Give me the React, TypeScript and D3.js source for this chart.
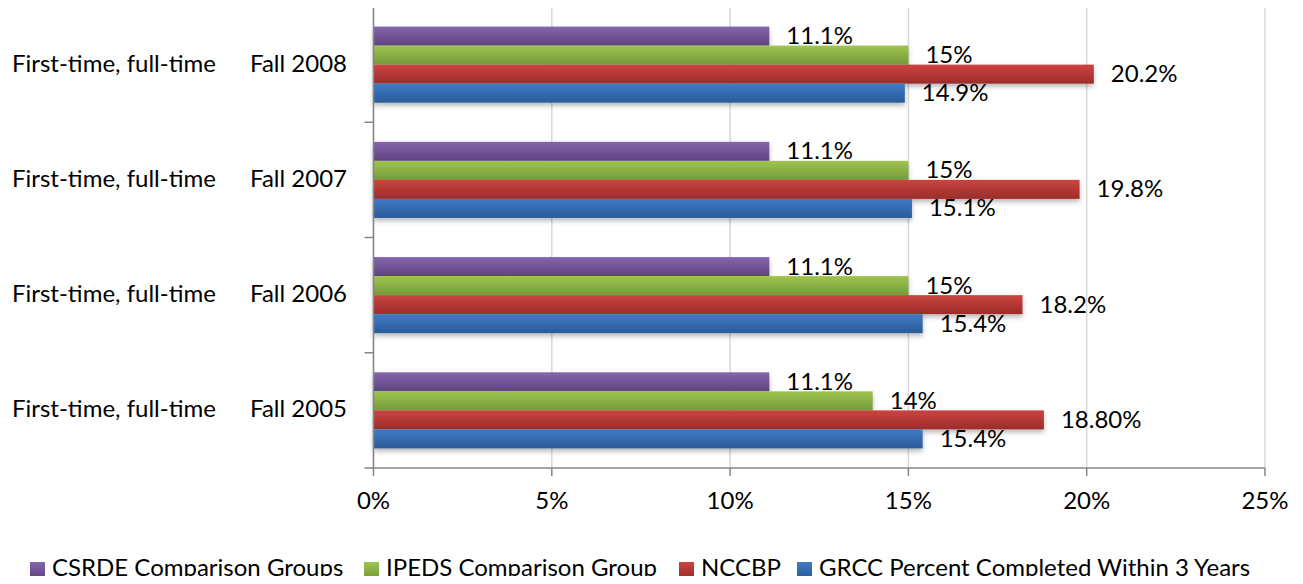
import React from 'react';
import * as d3 from 'd3';

// categories, top to bottom
const categories = [
  'First-time, full-time     Fall 2008',
  'First-time, full-time     Fall 2007',
  'First-time, full-time     Fall 2006',
  'First-time, full-time     Fall 2005',
];

// series, drawn top to bottom inside each category
const seriesNames = [
  'CSRDE Comparison Groups',
  'IPEDS Comparison Group',
  'NCCBP',
  'GRCC Percent Completed Within 3 Years',
];
const csrde = [11.1, 11.1, 11.1, 11.1];
const ipeds = [15, 15, 15, 14];
const nccbp = [20.2, 19.8, 18.2, 18.8];
const grcc = [14.9, 15.1, 15.4, 15.4];

const csrdeLabels = ['11.1%', '11.1%', '11.1%', '11.1%'];
const ipedsLabels = ['15%', '15%', '15%', '14%'];
const nccbpLabels = ['20.2%', '19.8%', '18.2%', '18.80%'];
const grccLabels = ['14.9%', '15.1%', '15.4%', '15.4%'];

const xTicks = [0, 5, 10, 15, 20, 25];

const colors = [
  ['#8566ad', '#5e4280'],
  ['#a0c450', '#769a3a'],
  ['#cc4441', '#9c2c2a'],
  ['#3e7bc6', '#2b5b98'],
];

const seriesValues = [csrde, ipeds, nccbp, grcc];
const seriesLabels = [csrdeLabels, ipedsLabels, nccbpLabels, grccLabels];

const FONT = 'Lato, "Open Sans", sans-serif';
const FS = 24;

export default function App() {
  const width = 1303;
  const height = 584;
  const left = 373.5;
  const right = 1265;
  const top = 7;
  const bottom = 468;

  const x = d3.scaleLinear().domain([0, 25]).range([left, right]);
  const y = d3.scaleBand<number>().domain(d3.range(categories.length)).range([top, bottom]);
  const inner = d3
    .scaleBand<number>()
    .domain(d3.range(seriesNames.length))
    .range([0, y.bandwidth()])
    .paddingOuter(1.03)
    .paddingInner(0);

  const legendX = [30, 364, 679, 797];

  return (
    <div style={{ margin: -8 }}>
      <svg width={width} height={height} style={{ display: 'block', background: '#fff' }}>
        <defs>
          {colors.map((c, i) => (
            <linearGradient key={i} id={`grad${i}`} x1="0" y1="0" x2="0" y2="1">
              <stop offset="0%" stopColor={c[0]} />
              <stop offset="100%" stopColor={c[1]} />
            </linearGradient>
          ))}
          <filter id="shadow" x="-5%" y="-20%" width="110%" height="160%">
            <feDropShadow dx="0" dy="3" stdDeviation="2.5" floodColor="#000" floodOpacity="0.28" />
          </filter>
        </defs>

        {/* gridlines */}
        {xTicks.map((t) => (
          <line key={t} x1={x(t)} x2={x(t)} y1={top} y2={bottom} stroke="#d9d9d9" strokeWidth={1.5} />
        ))}
        <line x1={left} x2={right} y1={top} y2={top} stroke="#d9d9d9" strokeWidth={1.5} />

        {/* bars */}
        {categories.map((cat, ci) => (
          <g key={cat + ci} transform={`translate(0,${y(ci)})`} filter="url(#shadow)">
            {seriesValues.map((vals, si) => (
              <rect
                key={si}
                x={x(0)}
                y={inner(si)}
                width={x(vals[ci]) - x(0)}
                height={inner.bandwidth()}
                fill={`url(#grad${si})`}
              />
            ))}
          </g>
        ))}

        {/* value labels */}
        {categories.map((cat, ci) =>
          seriesValues.map((vals, si) => (
            <text
              key={`${ci}-${si}`}
              x={x(vals[ci]) + 17}
              y={(y(ci) ?? 0) + (inner(si) ?? 0) + inner.bandwidth() / 2 + 2}
              dominantBaseline="middle"
              fontFamily={FONT}
              fontSize={FS}
              fill="#000"
            >
              {seriesLabels[si][ci]}
            </text>
          ))
        )}

        {/* axes */}
        <line x1={left} x2={left} y1={top} y2={bottom} stroke="#868686" strokeWidth={1.5} />
        <line x1={left} x2={right} y1={bottom} y2={bottom} stroke="#868686" strokeWidth={1.5} />
        {d3.range(categories.length + 1).map((i) => {
          const yy = top + i * y.step();
          return <line key={i} x1={left - 9} x2={left} y1={yy} y2={yy} stroke="#868686" strokeWidth={1.5} />;
        })}
        {xTicks.map((t) => (
          <g key={t}>
            <line x1={x(t)} x2={x(t)} y1={bottom} y2={bottom + 8} stroke="#868686" strokeWidth={1.5} />
            <text
              x={x(t)}
              y={503}
              textAnchor="middle"
              dominantBaseline="middle"
              fontFamily={FONT}
              fontSize={FS}
              fill="#000"
            >
              {t}%
            </text>
          </g>
        ))}

        {/* category labels */}
        {categories.map((cat, ci) => {
          const parts = cat.split(/\s{2,}/);
          const cy = (y(ci) ?? 0) + y.bandwidth() / 2 + 1;
          return (
            <g key={cat + ci} fontFamily={FONT} fontSize={FS} fill="#000">
              <text x={12} y={cy} dominantBaseline="middle">
                {parts[0]}
              </text>
              <text x={347} y={cy} textAnchor="end" dominantBaseline="middle">
                {parts[1]}
              </text>
            </g>
          );
        })}

        {/* legend */}
        {seriesNames.map((name, i) => (
          <g key={name} transform={`translate(${legendX[i]},570)`}>
            <rect x={0} y={-8} width={15} height={16} fill={`url(#grad${i})`} />
            <text x={22} y={0} dominantBaseline="middle" fontFamily={FONT} fontSize={FS} fill="#000">
              {name}
            </text>
          </g>
        ))}
      </svg>
    </div>
  );
}
